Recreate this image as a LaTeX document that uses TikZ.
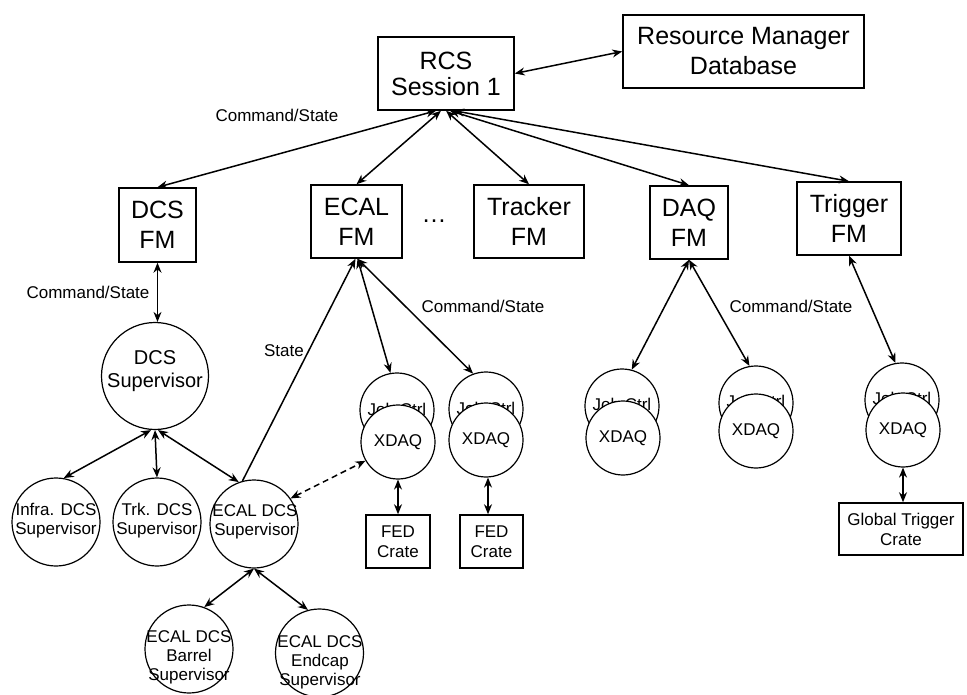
\documentclass[tikz,border=0pt]{standalone}
\usepackage{fontspec}
\setmainfont{Liberation Sans}
\usetikzlibrary{arrows.meta}
\tikzset{
  >={Stealth[length=10pt,width=8pt]},
  conn/.style={<->,line width=1.5pt},
  bigbox/.style={draw,line width=1.5pt,inner sep=0pt,align=center,font=\fontsize{25}{30}\selectfont},
  smallbox/.style={draw,line width=1.5pt,inner sep=0pt,align=center,font=\fontsize{17}{20}\selectfont},
  circ/.style={draw,circle,line width=1.2pt,inner sep=0pt,fill=white},
  ctxt/.style={align=center,inner sep=0pt,font=\fontsize{17}{19}\selectfont},
  lbl/.style={inner sep=0pt,font=\fontsize{17}{20}\selectfont}
}
\begin{document}
\begin{tikzpicture}[x=1pt,y=-1pt]
\useasboundingbox (0,0) rectangle (967,695);
% boxes
\node[bigbox,minimum width=136,minimum height=73,font=\fontsize{25}{26}\selectfont] (rcs) at (446,73.5) {RCS\\Session 1};
\node[bigbox,minimum width=241,minimum height=73] (rm) at (743.5,51.5) {Resource Manager\\Database};
\node[bigbox,minimum width=77,minimum height=74] (dcsfm) at (157.5,225) {DCS\\FM};
\node[bigbox,minimum width=91,minimum height=73] (ecalfm) at (356.5,221.5) {ECAL\\FM};
\node[bigbox,minimum width=110,minimum height=73] (trkfm) at (529,221.5) {Tracker\\FM};
\node[bigbox,minimum width=78,minimum height=73] (daqfm) at (689,222.5) {DAQ\\FM};
\node[bigbox,minimum width=104,minimum height=73] (trigfm) at (849,218.5) {Trigger\\FM};
\node[inner sep=0pt,font=\fontsize{25}{30}\selectfont] (dots) at (434,221) {\ldots};
\node[smallbox,minimum width=64,minimum height=53] (fed1) at (398,541.5) {FED\\Crate};
\node[smallbox,minimum width=63,minimum height=53] (fed2) at (491.5,541.5) {FED\\Crate};
\node[smallbox,minimum width=124,minimum height=52] (gtc) at (901,529) {Global Trigger\\Crate};
% DCS circles
\node[circ,minimum size=107] (dcssup) at (155,376) {};
\node[ctxt,font=\fontsize{20}{23}\selectfont] (dcssupt) at (155,371) {DCS\\Supervisor};
\node[circ,minimum size=88] (infra) at (56,522) {};
\node[ctxt] (infrat) at (56,521) {Infra. DCS\\Supervisor};
\node[circ,minimum size=88] (trk) at (157,522) {};
\node[ctxt] (trkt) at (157,521) {Trk. DCS\\Supervisor};
\node[circ,minimum size=88] (ecaldcs) at (254,524) {};
\node[ctxt] (ecaldcst) at (255,522) {ECAL DCS\\Supervisor};
\node[circ,minimum size=88] (barrel) at (189,649) {};
\node[ctxt] (barrelt) at (189,657) {ECAL DCS\\Barrel\\Supervisor};
\node[circ,minimum size=88] (endcap) at (319.5,653) {};
\node[ctxt] (endcapt) at (320,662) {ECAL DCS\\Endcap\\Supervisor};
% Job Ctrl / XDAQ pairs
\node[circ,minimum size=74] (jc1) at (397,410) {}; \node[ctxt] (jc1t) at (397,409) {Job Ctrl};
\node[circ,minimum size=74] (xd1) at (398,442) {}; \node[ctxt] (xd1t) at (398,442) {XDAQ};
\node[circ,minimum size=74] (jc2) at (486,409) {}; \node[ctxt] (jc2t) at (486,408) {Job Ctrl};
\node[circ,minimum size=74] (xd2) at (486,440) {}; \node[ctxt] (xd2t) at (486,440) {XDAQ};
\node[circ,minimum size=74] (jc3) at (622,406) {}; \node[ctxt] (jc3t) at (622,404) {Job Ctrl};
\node[circ,minimum size=74] (xd3) at (623,438) {}; \node[ctxt] (xd3t) at (623,438) {XDAQ};
\node[circ,minimum size=74] (jc4) at (756,403) {}; \node[ctxt] (jc4t) at (756,401) {Job Ctrl};
\node[circ,minimum size=74] (xd4) at (756,431) {}; \node[ctxt] (xd4t) at (756,431) {XDAQ};
\node[circ,minimum size=74] (jc5) at (902,400) {}; \node[ctxt] (jc5t) at (902,398) {Job Ctrl};
\node[circ,minimum size=74] (xd5) at (903,430) {}; \node[ctxt] (xd5t) at (903,430) {XDAQ};
% labels
\node[lbl] (cs1) at (277,115) {Command/State};
\node[lbl] (cs2) at (88,292) {Command/State};
\node[lbl] (cs3) at (483,306) {Command/State};
\node[lbl] (cs4) at (791,306) {Command/State};
\node[lbl] (st) at (284,351) {State};
% connectors
\draw[conn] (rcs.east) -- (rm.west);
\draw[conn] ([xshift=-10]rcs.south) -- (dcsfm.north);
\draw[conn] ([xshift=-5]rcs.south) -- (ecalfm.north);
\draw[conn] (rcs.south) -- (trkfm.north);
\draw[conn] ([xshift=4]rcs.south) -- (daqfm.north);
\draw[conn] ([xshift=8]rcs.south) -- (trigfm.north);
\draw[conn] (dcsfm.south) -- (dcssup.north -| dcsfm.south);
\draw[conn] ([xshift=-4]dcssup.south) -- (infra.80);
\draw[conn] (dcssup.south) -- (trk.north);
\draw[conn] ([xshift=3]dcssup.south) -- (ecaldcs.110);
\draw[conn] (ecaldcs.south) -- (barrel.70);
\draw[conn] (ecaldcs.south) -- (endcap.105);
\draw[->,line width=1.5pt] (ecaldcs.105) -- ([xshift=-1]ecalfm.south);
\draw[conn] ([xshift=1]ecalfm.south) -- (jc1.100);
\draw[conn] ([xshift=1]ecalfm.south) -- (jc2.110);
\draw[conn] (daqfm.south) -- (jc3.75);
\draw[conn] (daqfm.south) -- (jc4.100);
\draw[conn] (trigfm.south) -- (jc5.100);
\draw[conn,dash pattern=on 6pt off 4pt] (ecaldcs.35) -- (xd1.210);
\draw[conn] (xd1.south) -- (fed1.north);
\draw[conn] ([xshift=2]xd2.south) -- ([xshift=2]xd2.south |- fed2.north);
\draw[conn] (xd5.south) -- (xd5.south |- gtc.north);
\end{tikzpicture}
\end{document}
